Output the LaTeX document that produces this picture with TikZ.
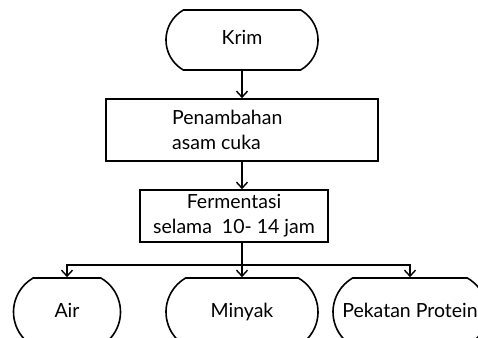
\documentclass[tikz,border=0pt]{standalone}
\usepackage{fontspec}
\setmainfont{Lato}
\usetikzlibrary{shapes.misc,arrows.meta}
\begin{document}
\begin{tikzpicture}[x=1pt,y=-1pt,
  font=\fontsize{19.5}{25}\selectfont,
  lw/.style={line width=1.6pt},
  term/.style={lw,draw,rounded rectangle,rounded rectangle arc length=120,inner sep=0pt,text height=14pt,text depth=4pt},
  proc/.style={lw,draw,rectangle,inner sep=0pt},
  arr/.style={lw,-{Straight Barb[length=6pt,width=11pt,line width=1.4pt]}}]
\useasboundingbox (0,0) rectangle (478,337);
\begin{scope}
\clip (0,0) rectangle (478,337);
\node[term,minimum width=152,minimum height=60] (krim) at (242,40) {Krim};
\node[proc,minimum width=272,minimum height=62] (pen) at (242,130) {};
\node[anchor=west,align=left,inner sep=0pt] (pentxt) at (172,130) {Penambahan\\asam cuka};
\node[proc,minimum width=188,minimum height=52,align=center] (fer) at (234,216) {Fermentasi\\selama~~10-~14 jam};
\coordinate (j) at (242,265);
\node[term,minimum width=107,minimum height=68] (air) at (67,312) {Air};
\node[term,minimum width=152,minimum height=68] (min) at (242,312) {Minyak};
\node[term,minimum width=154,minimum height=68] (pek) at (410,312) {Pekatan Protein};
\draw[arr] (krim.south) -- (pen.north -| krim.south);
\draw[arr] (pen.south -| krim.south) -- (fer.north -| krim.south);
\draw[lw] (fer.south -| j) -- (j);
\draw[arr] (j) -| (air.north);
\draw[arr] (j) -- (min.north);
\draw[arr] (j) -| (pek.north);
\end{scope}
\end{tikzpicture}
\end{document}
